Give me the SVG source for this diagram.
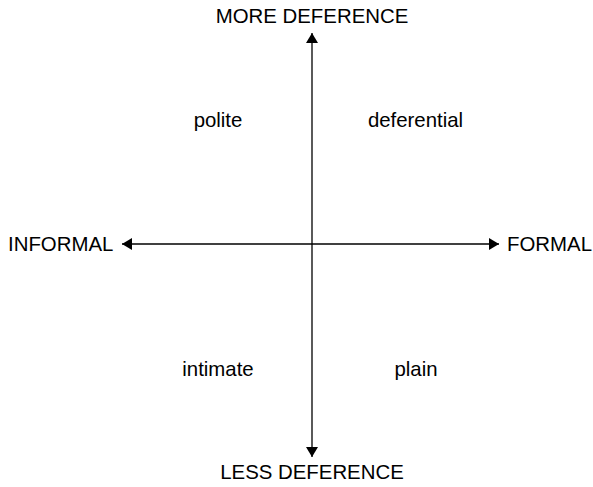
<svg xmlns="http://www.w3.org/2000/svg" width="593" height="487" viewBox="0 0 593 487">
<style>
text{font-family:"Liberation Sans",Arial,sans-serif;fill:#000;font-size:20.4px}
.ln{stroke:#000;stroke-width:1.3;fill:none}
</style>
<defs>
<marker id="ah" viewBox="0 0 10 12" refX="10" refY="6" markerWidth="10" markerHeight="12" markerUnits="userSpaceOnUse" orient="auto">
<path d="M0,0 L10,6 L0,12 Z" fill="#000"/>
</marker>
</defs>
<rect width="593" height="487" fill="#fff"/>
<g id="connectors">
<line class="ln" x1="312" y1="244" x2="312" y2="33" marker-end="url(#ah)"/>
<line class="ln" x1="312" y1="244" x2="312" y2="457" marker-end="url(#ah)"/>
<line class="ln" x1="312" y1="244" x2="122" y2="244" marker-end="url(#ah)"/>
<line class="ln" x1="312" y1="244" x2="499" y2="244" marker-end="url(#ah)"/>
</g>
<g id="more"><text x="312" y="23" text-anchor="middle">MORE DEFERENCE</text></g>
<g id="less"><text x="312" y="479" text-anchor="middle">LESS DEFERENCE</text></g>
<g id="informal"><text x="8" y="251">INFORMAL</text></g>
<g id="formal"><text x="507" y="251">FORMAL</text></g>
<g id="polite"><text x="218" y="127" text-anchor="middle">polite</text></g>
<g id="deferential"><text x="415.5" y="127" text-anchor="middle">deferential</text></g>
<g id="intimate"><text x="218" y="376" text-anchor="middle">intimate</text></g>
<g id="plain"><text x="416" y="376" text-anchor="middle">plain</text></g>
</svg>
